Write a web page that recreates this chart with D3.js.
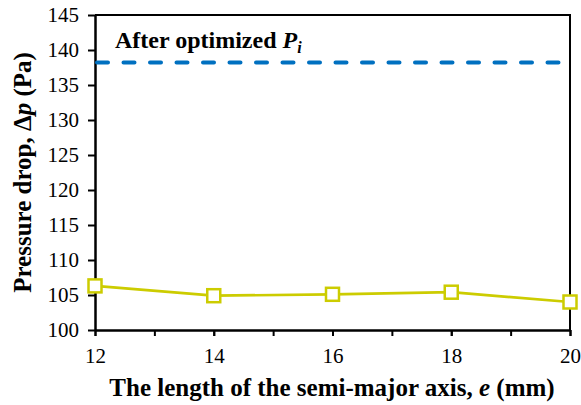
<!DOCTYPE html>
<meta charset="utf-8">
<script src="https://d3js.org/d3.v7.min.js"></script>
<div id="chart"></div>
<script>
    // data
    var semiMajor = [12, 14, 16, 18, 20];
    var pressureDrop = [106.3, 104.9, 105.1, 105.4, 104.0];
    var optimizedDrop = 138.2;
    var yTicks = [100, 105, 110, 115, 120, 125, 130, 135, 140, 145];
    var xTicks = [12, 14, 16, 18, 20];

    var serif = "Liberation Serif";
    d3.select("body").style("margin", "0px");

    var margin = {top: 15, right: 11, bottom: 75, left: 95},
        width = 581 - margin.left - margin.right,
        height = 405 - margin.top - margin.bottom;

    var svg = d3.select("#chart")
      .append("svg")
        .attr("width", 581)
        .attr("height", 405)
        .attr("font-family", serif)
      .append("g")
        .attr("transform", "translate(" + margin.left + "," + margin.top + ")");

    var x = d3.scaleLinear().domain([12, 20]).range([0, width]);
    var y = d3.scaleLinear().domain([100, 145]).range([height, 0]);

    // frame (top + right)
    svg.append("path")
      .attr("d", "M0,0H" + width + "V" + height)
      .attr("fill", "none")
      .attr("stroke", "#000")
      .attr("stroke-width", 2);

    // x axis: minor ticks then major ticks with labels
    svg.append("g")
      .attr("transform", "translate(0," + height + ")")
      .call(d3.axisBottom(x).tickValues(d3.range(12, 20.01, 1)).tickSize(6).tickFormat(""))
      .call(function(g){ g.select(".domain").remove(); })
      .selectAll("line").attr("stroke-width", 2);

    var xAxis = svg.append("g")
      .attr("transform", "translate(0," + height + ")")
      .call(d3.axisBottom(x).tickValues(xTicks).tickSize(6).tickSizeOuter(0).tickPadding(12))
      .attr("font-family", serif)
      .attr("font-size", 21);
    xAxis.select(".domain").attr("stroke-width", 2.5);
    xAxis.selectAll("line").attr("stroke-width", 2);
    xAxis.selectAll("text").attr("fill", "#000");

    var yAxis = svg.append("g")
      .call(d3.axisLeft(y).tickValues(yTicks).tickSize(7).tickSizeOuter(0).tickPadding(9))
      .attr("font-family", serif)
      .attr("font-size", 21);
    yAxis.select(".domain").attr("stroke-width", 2.5);
    yAxis.selectAll("line").attr("stroke-width", 2);
    yAxis.selectAll("text").attr("fill", "#000");

    // optimized reference line
    svg.append("line")
      .attr("x1", 2).attr("x2", width)
      .attr("y1", y(optimizedDrop)).attr("y2", y(optimizedDrop))
      .attr("stroke", "#0070C0")
      .attr("stroke-width", 4)
      .attr("stroke-dasharray", "11,15.5")
      .attr("stroke-linecap", "round");

    var label = svg.append("text")
      .attr("x", 20)
      .attr("y", y(optimizedDrop) - 15)
      .attr("font-family", serif)
      .attr("font-size", 24)
      .attr("font-weight", "bold")
      .attr("fill", "#000");
    label.append("tspan").text("After optimized ");
    label.append("tspan").attr("font-style", "italic").text("P");
    label.append("tspan").attr("font-style", "italic").attr("font-size", 16)
      .attr("dy", 5).text("i");

    // series
    var pts = semiMajor.map(function(d, i){ return {x: d, y: pressureDrop[i]}; });
    svg.append("path")
      .datum(pts)
      .attr("fill", "none")
      .attr("stroke", "#CCCC00")
      .attr("stroke-width", 2.7)
      .attr("d", d3.line().x(function(d){ return x(d.x); }).y(function(d){ return y(d.y); }));

    var s = 13;
    svg.selectAll(".marker")
      .data(pts)
      .enter().append("rect")
        .attr("x", function(d){ return x(d.x) - s/2; })
        .attr("y", function(d){ return y(d.y) - s/2; })
        .attr("width", s).attr("height", s)
        .attr("fill", "#fff")
        .attr("stroke", "#CCCC00")
        .attr("stroke-width", 2.5);

    // axis titles
    var xt = svg.append("text")
      .attr("x", 332 - margin.left)
      .attr("y", height + 66)
      .attr("text-anchor", "middle")
      .attr("font-family", serif)
      .attr("font-size", 25)
      .attr("font-weight", "bold");
    xt.append("tspan").text("The length of the semi-major axis, ");
    xt.append("tspan").attr("font-style", "italic").text("e");
    xt.append("tspan").text(" (mm)");

    var yt = svg.append("text")
      .attr("transform", "translate(-64," + (height / 2) + ") rotate(-90)")
      .attr("text-anchor", "middle")
      .attr("font-family", serif)
      .attr("font-size", 25)
      .attr("font-weight", "bold");
    yt.append("tspan").text("Pressure drop, Δ");
    yt.append("tspan").attr("font-style", "italic").text("p");
    yt.append("tspan").text(" (Pa)");
</script>
